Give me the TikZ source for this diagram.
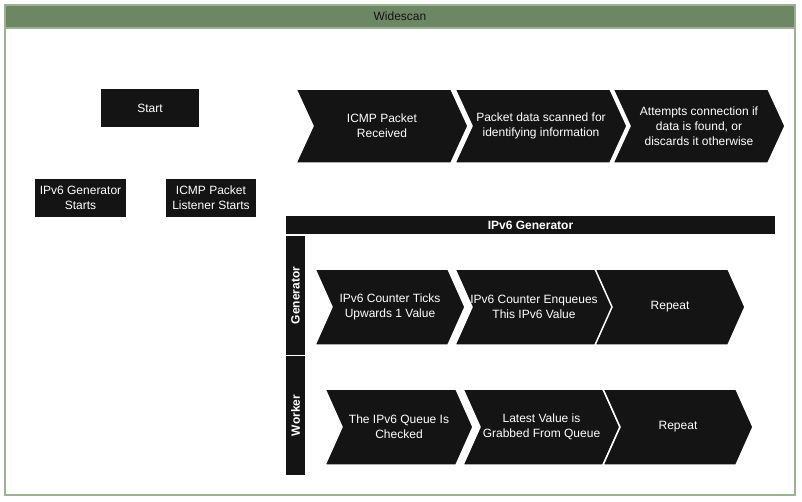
\documentclass[tikz,border=0pt]{standalone}
\usepackage{fontspec}
\setmainfont{Liberation Sans}
\definecolor{poolgreen}{HTML}{6D8764}
\definecolor{poolline}{HTML}{9DB196}
\definecolor{boxblack}{HTML}{141414}

% chevron: name, left, top, width, height, text
\newcommand{\chev}[6]{%
    \filldraw[chev] (#2,#3) -- ++(#4-17,0) -- ++(17,#5/2) -- ++(-17,#5/2)
        -- ++(-#4+17,0) -- ++(17,-#5/2) -- cycle;
    \node[chev text] (#1) at ({#2+#4/2},{#3+#5/2}) {#6};}

\begin{document}
\begin{tikzpicture}[x=1pt,y=-1pt]
    \tikzstyle{chev}      = [fill=boxblack,draw=white,line width=1.5pt]
    \tikzstyle{chev text} = [text=white,align=center,inner sep=0pt,font=\fontsize{12}{15}\selectfont]
    \tikzstyle{box}       = [fill=boxblack,text=white,align=center,inner sep=0pt,font=\fontsize{12}{15}\selectfont]
    \tikzstyle{bar text}  = [text=white,inner sep=0pt,font=\bfseries\fontsize{12}{15}\selectfont]

    \useasboundingbox (0,0) rectangle (802,501);

    % pool
    \draw[poolline,line width=1.2pt] (5,5) rectangle (795,495);
    \filldraw[fill=poolgreen,draw=poolline,line width=1.2pt] (5,5) rectangle (795,28);
    \node[text=boxblack,font=\fontsize{12}{15}\selectfont] (title) at (400,16.5) {Widescan};

    % start boxes
    \node[box,minimum width=98pt,minimum height=38pt]  (start)     at (150,108) {Start};
    \node[box,minimum width=91pt,minimum height=38pt]  (genstart)  at (80.5,198) {IPv6 Generator\\Starts};
    \node[box,minimum width=90pt,minimum height=38pt]  (lisstart)  at (211,198) {ICMP Packet\\Listener Starts};

    % listener steps
    \chev{recv}{296}{89}{172}{74}{ICMP Packet\\Received}
    \chev{scan}{455}{89}{172}{74}{Packet data scanned for\\identifying information}
    \chev{conn}{613}{89}{172}{74}{Attempts connection if\\data is found, or\\discards it otherwise}

    % generator pool
    \fill[boxblack] (286,216) rectangle (775,234);
    \node[bar text] (genpool) at (530.5,225) {IPv6 Generator};
    \fill[boxblack] (286,236) rectangle (305,355);
    \node[bar text,rotate=90] (genlane) at (295.5,295.5) {Generator};
    \fill[boxblack] (286,356) rectangle (305,475);
    \node[bar text,rotate=90] (worklane) at (295.5,415.5) {Worker};

    \chev{tick}{315}{269}{150}{76}{IPv6 Counter Ticks\\Upwards 1 Value}
    \chev{enq}{455}{269}{158}{76}{IPv6 Counter Enqueues\\This IPv6 Value}
    \chev{genrep}{595}{269}{150}{76}{Repeat}

    \chev{check}{325}{389}{148}{76}{The IPv6 Queue Is\\Checked}
    \chev{grab}{463}{389}{157}{76}{Latest Value is\\Grabbed From Queue}
    \chev{workrep}{603}{389}{150}{76}{Repeat}
\end{tikzpicture}
\end{document}
